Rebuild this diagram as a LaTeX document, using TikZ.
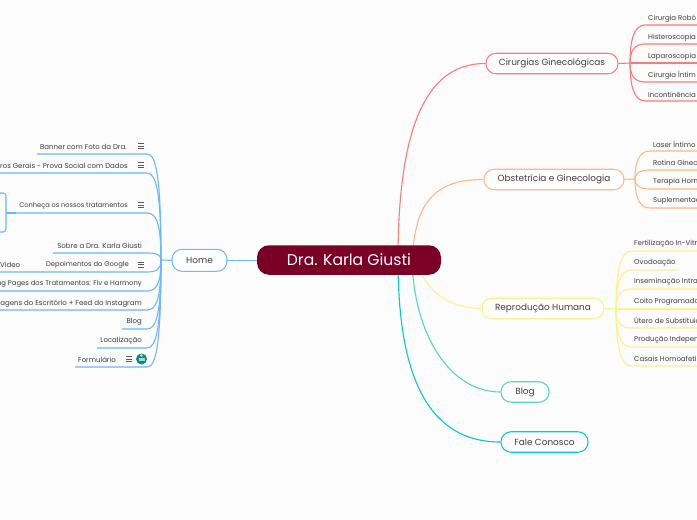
\documentclass[tikz,border=0pt]{standalone}
\usepackage{fontspec}
\setmainfont{Poppins}
\definecolor{cred}{HTML}{FF7A75}
\definecolor{corange}{HTML}{FFB783}
\definecolor{cyellow}{HTML}{FFF08C}
\definecolor{cgreen}{HTML}{4FDBAA}
\definecolor{ccyan}{HTML}{00C9D9}
\definecolor{cblue}{HTML}{6BB8FF}
\definecolor{croot}{HTML}{7A0027}
\definecolor{ctext}{HTML}{3C3C3C}
\definecolor{cteal}{HTML}{0F8A7C}
\definecolor{cmint}{HTML}{8FE0D0}
\tikzset{
  rootbox/.style={rounded corners=12pt,fill=croot,text=white,minimum width=184pt,minimum height=29.5pt,inner sep=0pt,font=\fontsize{15.6}{17}\selectfont},
  branch/.style={rounded corners=10pt,fill=white,draw=#1,line width=1.05pt,text=ctext,inner sep=0pt,minimum height=20.5pt,font=\fontsize{8.9}{11}\selectfont},
  leaf/.style={text=ctext,inner sep=0pt,font=\fontsize{7}{8}\selectfont},
  conn/.style={draw=#1,line width=1.1pt},
  iconline/.style={draw=ctext!85,line width=0.8pt}
}
\newcommand{\menuicon}[3]{%
  \coordinate (#1) at (#2,#3);
  \draw[iconline] ([xshift=-3pt,yshift=-2.5pt]#1) -- ++(6pt,0);
  \draw[iconline] ([xshift=-3pt]#1) -- ++(6pt,0);
  \draw[iconline] ([xshift=-3pt,yshift=2.5pt]#1) -- ++(6pt,0);
}
\newcommand{\lowered}[2][-1.6pt]{\raisebox{#1}{#2}}
\begin{document}
\begin{tikzpicture}[x=1pt,y=-1pt]
\useasboundingbox (0,0) rectangle (697,520);
\clip (0,0) rectangle (697,520);
\fill[white!99!black] (0,0) rectangle (697,520);
% hubs
\coordinate (hubA) at (398,260);
\coordinate (hubB) at (412,260);
\coordinate (hubC) at (416,260);
\coordinate (hubH) at (161,260);
\coordinate (hubCG) at (630,63);
\coordinate (hubOG) at (635,179);
\coordinate (hubRH) at (616,309);
% branches
\node[branch=cred,minimum width=132pt] (cg) at (552,63.5) {\lowered[-2pt]{Cirurgias Ginecológicas}};
\node[branch=corange,minimum width=140pt] (og) at (554,179.5) {\lowered[-1.5pt]{Obstetrícia e Ginecologia}};
\node[branch=cyellow,minimum width=122pt] (rh) at (543,308.5) {\lowered[-2pt]{Reprodução Humana}};
\node[branch=cgreen,minimum width=48pt] (bl) at (525,392) {\lowered{Blog}};
\node[branch=ccyan,minimum width=87pt] (fc) at (544.5,442) {\lowered{Fale Conosco}};
\node[branch=cblue,minimum width=55pt,minimum height=22pt] (hm) at (199.5,260.3) {\lowered{Home}};
% main connectors
\draw[conn=cred] (hubA) .. controls (398,130) and (425,63) .. (cg.west);
\draw[conn=corange] (hubB) .. controls (415,215) and (425,179) .. (og.west);
\draw[conn=cyellow] (hubC) .. controls (426,293) and (450,308) .. (rh.west);
\draw[conn=cgreen] (hubB) .. controls (414,335) and (450,392) .. (bl.west);
\draw[conn=ccyan] (hubA) .. controls (398,380) and (430,442) .. (fc.west);
\draw[conn=cblue] (hm.east) -- (257,260.3);
\draw[conn=cblue] (hm.west) -- (hubH);
\draw[conn=cred] (cg.east) -- (hubCG);
\draw[conn=corange] (og.east) -- (hubOG);
\draw[conn=cyellow] (rh.east) -- (hubRH);
% root
\node[rootbox] (root) at (349,260) {Dra. Karla Giusti};
% right leaves
\foreach \n/\y/\t in {a1/25/Cirurgia Robó,a2/44/Histeroscopia,a3/63/Laparoscopia,a4/82/Cirurgia Íntim,a5/101/Incontinência U}{
  \node[leaf,anchor=west] (\n) at (648,\y-6.5) {\t};
  \coordinate (\n u) at (645,\y);
  \coordinate (\n e) at (697,\y);
  \draw[conn=cred] (hubCG) .. controls (630,{\y+0.4*(63-\y)}) and (634,\y) .. (\n u) -- (\n e);
}
\foreach \n/\y/\t in {b1/151/Laser Íntimo,b2/170/Rotina Ginec,b3/189/Terapia Horm,b4/208/Suplementaç}{
  \node[leaf,anchor=west] (\n) at (653,\y-7) {\t};
  \coordinate (\n u) at (650,\y);
  \coordinate (\n e) at (697,\y);
  \draw[conn=corange] (hubOG) .. controls (635,{\y+0.4*(179-\y)}) and (639,\y) .. (\n u) -- (\n e);
}
\foreach \n/\y/\t/\e in {c1/251/Fertilização In-Vitr/697,c2/270/Ovodoação/678,c3/289/Inseminação Intra/697,c4/309/Coito Programado/697,c5/328/Útero de Substituiç/697,c6/347/Produção Indepen/697,c7/366/Casais Homoafeti/697}{
  \node[leaf,anchor=west] (\n) at (634,\y-7) {\t};
  \coordinate (\n u) at (631,\y);
  \coordinate (\n e) at (\e,\y);
  \draw[conn=cyellow] (hubRH) .. controls (616,{\y+0.4*(309-\y)}) and (620,\y) .. (\n u) -- (\n e);
}
% left leaves
\foreach \n/\y/\xs/\xt/\t/\sz in {d1/154/37/127/Banner com Foto da Dra./7,d2/173/0/128/eros Gerais - Prova Social com Dados/7,d3/213/16/128/Conheça os nossos tratamentos/6.65,d4/253/53/142/Sobre a Dra. Karla Giusti/7,d5/272/0/129/Depoimentos do Google/6.8,d6/291/0/142/ng Pages dos Tratamentos: Fiv e Harmony/6.85,d7/310/0/142/agens do Escritório + Feed do Instagram/7,d8/329/122/142/Blog/7,d9/348/97/142/Localização/7,d10/367/75/116/Formulário/7}{
  \node[leaf,anchor=east,font=\fontsize{\sz}{8}\selectfont] (\n) at (\xt,\y-6.8) {\t};
  \coordinate (\n u) at (\xs,\y);
  \coordinate (\n e) at (147,\y);
  \draw[conn=cblue] (\n u) -- (\n e) .. controls (156,\y) and (161,{\y+0.2*(260-\y)}) .. (hubH);
}
\node[leaf,anchor=west] (vd) at (0,265.2) {Vídeo};
% sub-bracket under "Conheça"
\coordinate (br1) at (0,193);
\coordinate (br2) at (6,193);
\coordinate (br3) at (6,232);
\coordinate (br4) at (0,232);
\coordinate (br5) at (6,213);
\draw[conn=cblue,rounded corners=3pt] (br1) -- (br2) -- (br3) -- (br4);
\draw[conn=cblue] (br5) -- (d3u);
% icons
\menuicon{m1}{141}{146}
\menuicon{m2}{141}{165}
\menuicon{m3}{141}{205}
\menuicon{m4}{141}{264.5}
\menuicon{m5}{129}{359}
\node[circle,fill=cteal,minimum size=11pt,inner sep=0pt] (gi) at (141.5,359) {};
\fill[cmint] (138.5,357.5) rectangle (144.5,361);
\fill[cmint] (141.5,355.5) circle (1.6pt);
\end{tikzpicture}
\end{document}
